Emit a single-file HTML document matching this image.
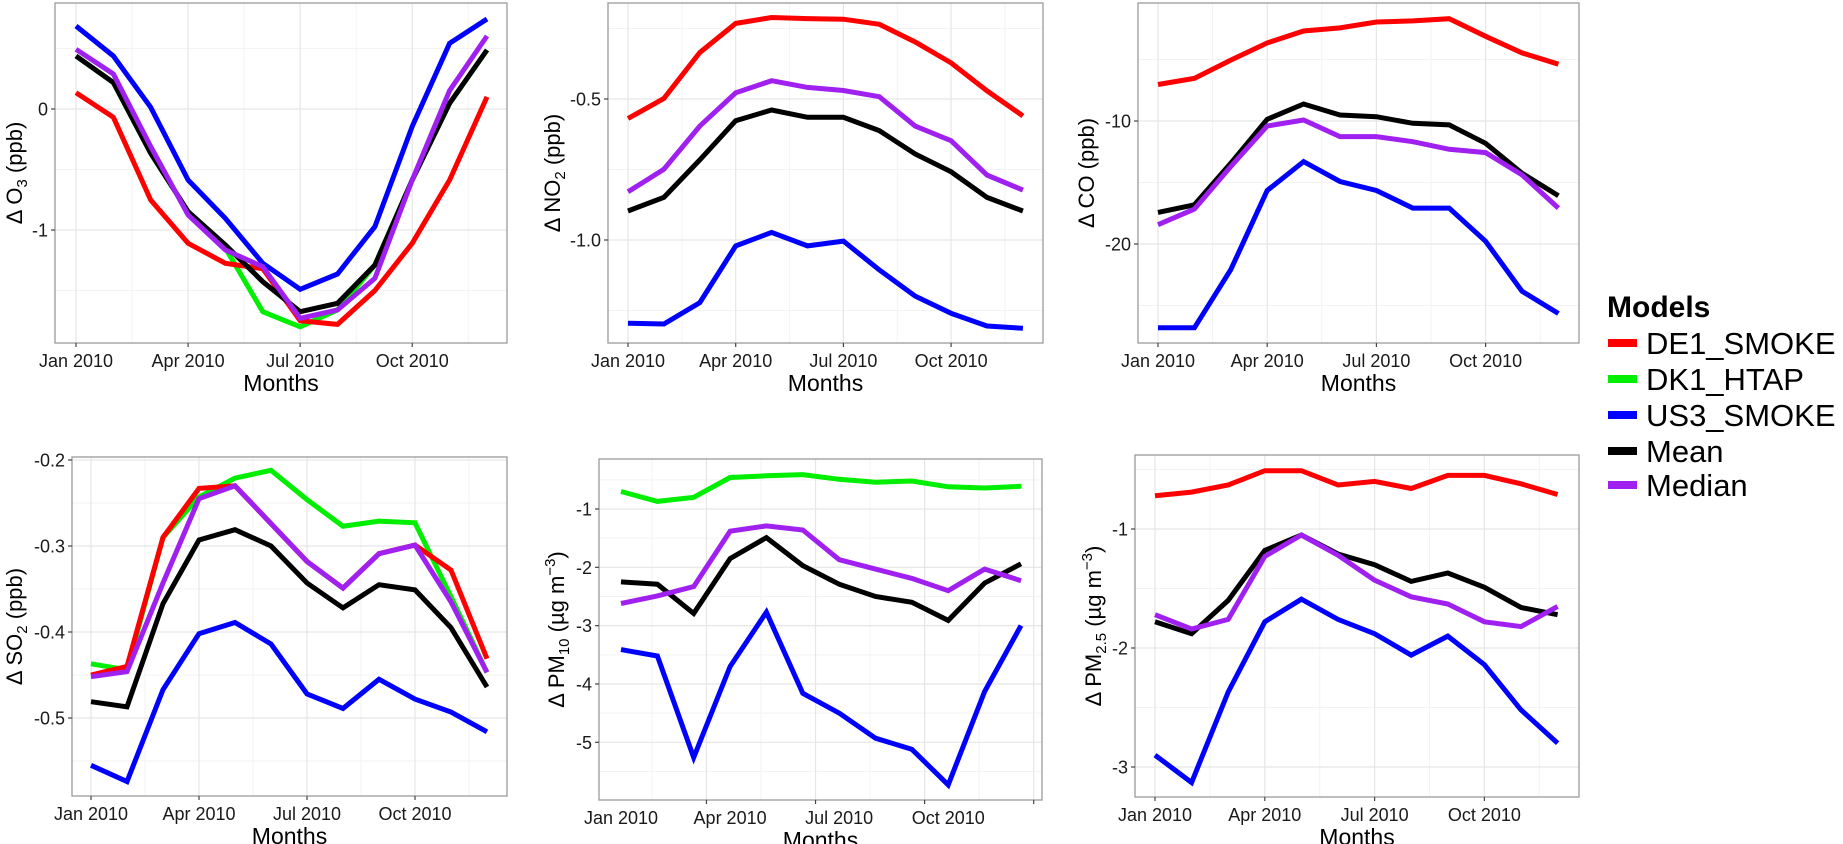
<!DOCTYPE html>
<html><head><meta charset="utf-8">
<style>
html,body{margin:0;padding:0;background:#fff;}
svg{display:block;font-family:"Liberation Sans",Arial,sans-serif;}
</style></head>
<body>
<svg id="fig" width="1843" height="844" viewBox="0 0 1843 844" xmlns="http://www.w3.org/2000/svg">
  <g id="panels"></g>
  <g id="legend">
    <text x="1607" y="317" font-size="30" font-weight="bold" fill="#000">Models</text>
    <rect x="1608" y="339" width="29" height="8" fill="#ff0000"/>
    <text x="1646" y="354" font-size="31">DE1_SMOKE</text>
    <rect x="1608" y="375" width="29" height="8" fill="#00ee00"/>
    <text x="1646" y="390" font-size="31">DK1_HTAP</text>
    <rect x="1608" y="411" width="29" height="8" fill="#0000ff"/>
    <text x="1646" y="426" font-size="31">US3_SMOKE</text>
    <rect x="1608" y="447" width="29" height="8" fill="#000000"/>
    <text x="1646" y="462" font-size="31">Mean</text>
    <rect x="1608" y="481" width="29" height="8" fill="#a020f0"/>
    <text x="1646" y="496" font-size="31">Median</text>
  </g>
</svg>
<script>
// ---- data ----
const months = ["Jan","Feb","Mar","Apr","May","Jun","Jul","Aug","Sep","Oct","Nov","Dec"];
const xTickLabels = ["Jan 2010","Apr 2010","Jul 2010","Oct 2010"];

const o3Red    = [0.135,-0.069,-0.752,-1.11,-1.275,-1.32,-1.75,-1.78,-1.50,-1.11,-0.587,0.10];
const o3Green  = [0.438,0.218,-0.366,-0.848,-1.15,-1.675,-1.80,-1.66,-1.289,-0.587,0.047,0.488];
const o3Blue   = [0.686,0.438,0.014,-0.587,-0.904,-1.275,-1.490,-1.364,-0.972,-0.145,0.543,0.744];
const o3Mean   = [0.438,0.218,-0.366,-0.848,-1.124,-1.427,-1.675,-1.606,-1.289,-0.587,0.047,0.488];
const o3Median = [0.493,0.289,-0.311,-0.876,-1.165,-1.303,-1.730,-1.661,-1.399,-0.587,0.152,0.603];
const o3Ticks  = [0,-1];

const no2Red    = [-0.569,-0.498,-0.335,-0.232,-0.211,-0.215,-0.217,-0.235,-0.298,-0.372,-0.471,-0.560];
const no2Blue   = [-1.295,-1.298,-1.222,-1.021,-0.973,-1.021,-1.004,-1.106,-1.199,-1.260,-1.305,-1.313];
const no2Mean   = [-0.897,-0.849,-0.716,-0.577,-0.539,-0.565,-0.565,-0.612,-0.695,-0.758,-0.849,-0.897];
const no2Median = [-0.829,-0.749,-0.596,-0.478,-0.435,-0.459,-0.470,-0.492,-0.596,-0.648,-0.770,-0.823];
const no2Ticks  = [-0.5,-1.0];

const coRed    = [-7.03,-6.54,-5.05,-3.65,-2.68,-2.43,-1.95,-1.86,-1.68,-3.11,-4.46,-5.38];
const coBlue   = [-26.81,-26.81,-22.08,-15.65,-13.30,-14.92,-15.65,-17.08,-17.08,-19.78,-23.84,-25.65];
const coMean   = [-17.43,-16.81,-13.43,-9.86,-8.62,-9.51,-9.65,-10.19,-10.32,-11.81,-14.24,-16.08];
const coMedian = [-18.43,-17.16,-13.70,-10.41,-9.92,-11.27,-11.27,-11.68,-12.30,-12.57,-14.38,-17.08];
const coTicks  = [-10,-20];

const so2Red    = [-0.450,-0.440,-0.290,-0.233,-0.230,-0.274,-0.318,-0.349,-0.309,-0.299,-0.328,-0.431];
const so2Green  = [-0.437,-0.444,-0.290,-0.243,-0.221,-0.212,-0.246,-0.277,-0.271,-0.273,-0.359,-0.447];
const so2Blue   = [-0.555,-0.574,-0.467,-0.402,-0.389,-0.414,-0.472,-0.489,-0.455,-0.478,-0.493,-0.516];
const so2Mean   = [-0.481,-0.487,-0.367,-0.293,-0.281,-0.300,-0.343,-0.372,-0.345,-0.351,-0.395,-0.464];
const so2Median = [-0.452,-0.446,-0.343,-0.245,-0.230,-0.274,-0.318,-0.349,-0.309,-0.299,-0.365,-0.447];
const so2Ticks  = [-0.2,-0.3,-0.4,-0.5];

const pm10Green  = [-0.70,-0.87,-0.80,-0.46,-0.43,-0.41,-0.49,-0.54,-0.52,-0.62,-0.64,-0.61];
const pm10Blue   = [-3.41,-3.52,-5.26,-3.70,-2.77,-4.16,-4.50,-4.93,-5.12,-5.73,-4.13,-3.00];
const pm10Mean   = [-2.25,-2.29,-2.79,-1.85,-1.49,-1.97,-2.29,-2.50,-2.60,-2.91,-2.27,-1.94];
const pm10Median = [-2.62,-2.49,-2.33,-1.38,-1.29,-1.36,-1.87,-2.03,-2.19,-2.40,-2.03,-2.23];
const pm10Ticks  = [-1,-2,-3,-4,-5];

const pm25Red    = [-0.72,-0.69,-0.63,-0.51,-0.51,-0.63,-0.60,-0.66,-0.55,-0.55,-0.62,-0.71];
const pm25Blue   = [-2.90,-3.13,-2.37,-1.78,-1.59,-1.76,-1.88,-2.06,-1.90,-2.14,-2.52,-2.80];
const pm25Mean   = [-1.78,-1.88,-1.60,-1.18,-1.05,-1.21,-1.30,-1.44,-1.37,-1.49,-1.66,-1.72];
const pm25Median = [-1.72,-1.84,-1.76,-1.23,-1.05,-1.22,-1.43,-1.57,-1.63,-1.78,-1.82,-1.65];
const pm25Ticks  = [-1,-2,-3];

// ---- layout ----
const COL = {red:"#ff0000",green:"#00ee00",blue:"#0000ff",mean:"#000000",median:"#a020f0"};
const NS = "http://www.w3.org/2000/svg";
const root = document.getElementById("panels");

const panels = [
 {id:"o3", L:55,R:507,T:3,B:343, xJan:76,dx:37.36, vA:0,yA:109,vB:-1,yB:230, ticks:o3Ticks, minor:[0.5,-0.5,-1.5], fmt:v=>String(v),
  label:["Δ O","3"," (ppb)",""], labX:14,
  series:[["green",o3Green],["red",o3Red],["blue",o3Blue],["mean",o3Mean],["median",o3Median]]},
 {id:"no2", L:608,R:1043,T:3,B:343, xJan:628,dx:35.9, vA:-0.5,yA:99,vB:-1.0,yB:240, ticks:no2Ticks, minor:[-0.25,-0.75,-1.25], fmt:v=>v.toFixed(1),
  label:["Δ NO","2"," (ppb)",""], labX:552,
  series:[["red",no2Red],["blue",no2Blue],["mean",no2Mean],["median",no2Median]]},
 {id:"co", L:1138,R:1579,T:3,B:343, xJan:1158,dx:36.4, vA:-10,yA:121,vB:-20,yB:244, ticks:coTicks, minor:[-5,-15,-25], fmt:v=>String(v),
  label:["Δ CO (ppb)","","",""], labX:1086,
  series:[["red",coRed],["blue",coBlue],["mean",coMean],["median",coMedian]]},
 {id:"so2", L:72,R:507,T:457,B:796, xJan:91,dx:36.0, vA:-0.2,yA:460,vB:-0.5,yB:718, ticks:so2Ticks, minor:[-0.25,-0.35,-0.45,-0.55], fmt:v=>v.toFixed(1),
  label:["Δ SO","2"," (ppb)",""], labX:14,
  series:[["green",so2Green],["red",so2Red],["blue",so2Blue],["mean",so2Mean],["median",so2Median]]},
 {id:"pm10", L:599,R:1042,T:459,B:800, xJan:621,dx:36.36, vA:-1,yA:509,vB:-5,yB:742.3, ticks:pm10Ticks, minor:[-0.5,-1.5,-2.5,-3.5,-4.5,-5.5], fmt:v=>String(v),
  label:["Δ PM","10"," (µg m","−3"], labX:556, tickShift:2.35,
  series:[["green",pm10Green],["blue",pm10Blue],["mean",pm10Mean],["median",pm10Median]]},
 {id:"pm25", L:1135,R:1579,T:455,B:797, xJan:1155,dx:36.6, vA:-1,yA:529,vB:-3,yB:767, ticks:pm25Ticks, minor:[-0.5,-1.5,-2.5], fmt:v=>String(v),
  label:["Δ PM","2.5"," (µg m","−3"], labX:1093,
  series:[["red",pm25Red],["blue",pm25Blue],["mean",pm25Mean],["median",pm25Median]]}
];

function el(tag, attrs, parent){
  const e = document.createElementNS(NS, tag);
  for (const k in attrs) e.setAttribute(k, attrs[k]);
  parent.appendChild(e);
  return e;
}

panels.forEach(p => {
  const g = el("g", {}, root);
  
  
  const k = (p.yB - p.yA) / (p.vA - p.vB);
  const y = v => p.yA + (p.vA - v) * k;
  const x = i => p.xJan + i * p.dx;
  const shift = p.tickShift || 0;

  // grid
  const grid = el("g", {}, g);
  
  
  p.minor.forEach(v => { const yy=y(v); if(yy>p.T && yy<p.B) el("line",{x1:p.L,x2:p.R,y1:yy,y2:yy,stroke:"#f3f3f3","stroke-width":1},grid); });
  for (let m = -1.5; m < 14; m += 3) { const xx=x(m+shift); if(xx>p.L && xx<p.R) el("line",{x1:xx,x2:xx,y1:p.T,y2:p.B,stroke:"#f3f3f3","stroke-width":1},grid); }
  p.ticks.forEach(v => el("line",{x1:p.L,x2:p.R,y1:y(v),y2:y(v),stroke:"#e6e6e6","stroke-width":1.2},grid));
  for (let m = 0; m < 14; m += 3) { const xx=x(m+shift); if(xx>p.L && xx<p.R) el("line",{x1:xx,x2:xx,y1:p.T,y2:p.B,stroke:"#e6e6e6","stroke-width":1.2},grid); }

  // series
  p.series.forEach(([key, vals]) => {
    const pts = vals.map((v,i) => x(i).toFixed(1) + "," + y(v).toFixed(1)).join(" ");
    const pl = el("polyline", {points:pts, fill:"none", stroke:COL[key], "stroke-width":5, "stroke-linejoin":"miter", "stroke-linecap":"butt"}, g);
    
    
  });

  // border
  const br = el("rect", {x:p.L, y:p.T, width:p.R-p.L, height:p.B-p.T, fill:"none", stroke:"#9a9a9a", "stroke-width":1.3}, g);
  
  

  // y ticks
  p.ticks.forEach(v => {
    el("line",{x1:p.L-4,x2:p.L,y1:y(v),y2:y(v),stroke:"#444","stroke-width":1.2},g);
    const t = el("text",{x:p.L-7,y:y(v)+6.5,"font-size":18,"text-anchor":"end",fill:"#1a1a1a"},g);
    t.textContent = p.fmt(v);
    
    
  });
  // x ticks
  for (let m = 0; m < 13; m += 3) {
    const xx = x(m+shift);
    if (xx <= p.R) el("line",{x1:xx,x2:xx,y1:p.B,y2:p.B+4,stroke:"#444","stroke-width":1.2},g);
  }
  xTickLabels.forEach((lab, j) => {
    const t = el("text",{x:x(j*3),y:p.B+24,"font-size":18,"text-anchor":"middle",fill:"#1a1a1a"},g);
    t.textContent = lab;
    
    
  });
  const xt = el("text",{x:(p.L+p.R)/2,y:p.B+48,"font-size":23,"text-anchor":"middle",fill:"#000"},g);
  xt.textContent = "Months";
  
  

  // y title
  const cy = (p.T+p.B)/2;
  const yt = el("text",{x:0,y:0,"font-size":22,"text-anchor":"middle",fill:"#000",transform:`translate(${p.labX+8},${cy}) rotate(-90)`},g);
  
  
  const parts = p.label;
  const s0 = el("tspan",{},yt); s0.textContent = parts[0];
  if (parts[1]) { const s1 = el("tspan",{"font-size":15,dy:5},yt); s1.textContent = parts[1]; }
  if (parts[2]) { const s2 = el("tspan",{dy:parts[1]?-5:0},yt); s2.textContent = parts[2]; }
  if (parts[3]) { const s3 = el("tspan",{"font-size":15,dy:-9},yt); s3.textContent = parts[3]; const s4 = el("tspan",{dy:9},yt); s4.textContent = ")"; }
});
</script>
</body></html>
